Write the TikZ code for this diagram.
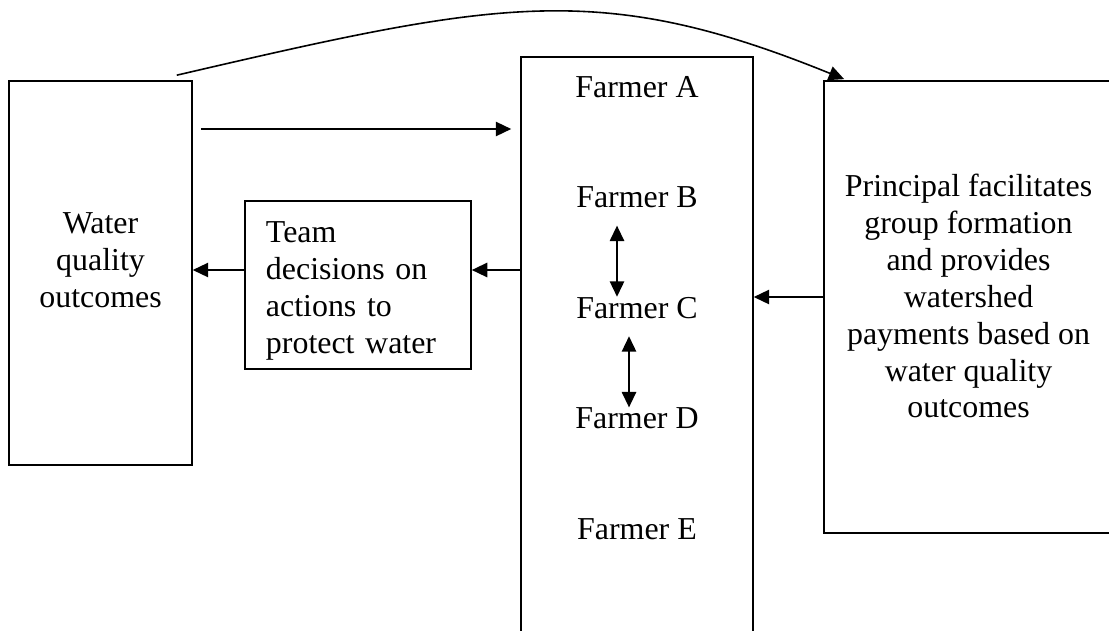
\documentclass[tikz,border=0pt]{standalone}
\usepackage{fontspec}
\setmainfont{Liberation Serif}
\usetikzlibrary{arrows.meta,calc}
\newcommand\pxu{0.376pt}
\tikzset{
    box/.style={draw, line width=0.6pt, inner sep=0pt},
    lbl/.style={align=center, inner sep=0pt, font=\fontsize{12}{13.9}\selectfont},
    arr/.style={line width=0.6pt, -{Triangle[length=5.8pt, width=5.4pt]}},
    dbl/.style={line width=0.6pt, {Triangle[length=5.8pt, width=5.4pt]}-{Triangle[length=5.8pt, width=5.4pt]}}
}
\begin{document}
\begin{tikzpicture}[x=\pxu, y=-\pxu]
    \useasboundingbox (0,0) rectangle (1109,630);
    %\draw[thin, dashed] (0,0) rectangle (1109,630);
    \node[box, minimum width=68.8pt, minimum height=144.4pt] (water) at (100.5,273) {};
    \node[lbl] (waterT) at (100.5,260) {Water\\quality\\outcomes};
    \node[box, minimum width=85pt, minimum height=63.2pt] (team) at (358,285) {};
    \node[lbl, text width=69.2pt, align=left] (teamT) at (358,291) {Team\\decisions on\\actions to\\protect water};
    \node[box, minimum width=87.2pt, minimum height=219.2pt] (farmers) at (637,348.5) {};
    \foreach \f [count=\i from 0] in {A, B, C, D, E}
        \node[lbl] (farmer\f) at (637, {87+110.5*\i}) {Farmer \f};
    \node[box, minimum width=108.7pt, minimum height=170pt] (principal) at (968.5,307) {};
    \node[lbl] (principalT) at (968.5,296) {Principal facilitates\\group formation\\and provides\\watershed\\payments based on\\water quality\\outcomes};
    % connectors
    \draw[arr] ($(water.north east)+(-16,-5)$) .. controls (500,0) and (600,-20) .. ($(principal.north west)+(21,-1)$);
    \draw[arr, shorten <=3pt, shorten >=3.4pt] (water.east |- 0,129) -- (farmers.west |- 0,129);
    \draw[arr] (farmers.west |- 0,270) -- (team.east |- 0,270);
    \draw[arr] (team.west |- 0,270) -- (water.east |- 0,270);
    \draw[arr] (principal.west |- 0,297) -- (farmers.east |- 0,297);
    \draw[dbl] ($(farmerB.south)+(-20,17)$) -- ($(farmerC.north)+(-20,0)$);
    \draw[dbl] ($(farmerC.south)+(-8,17)$) -- ($(farmerD.north)+(-8,0)$);
\end{tikzpicture}
\end{document}
